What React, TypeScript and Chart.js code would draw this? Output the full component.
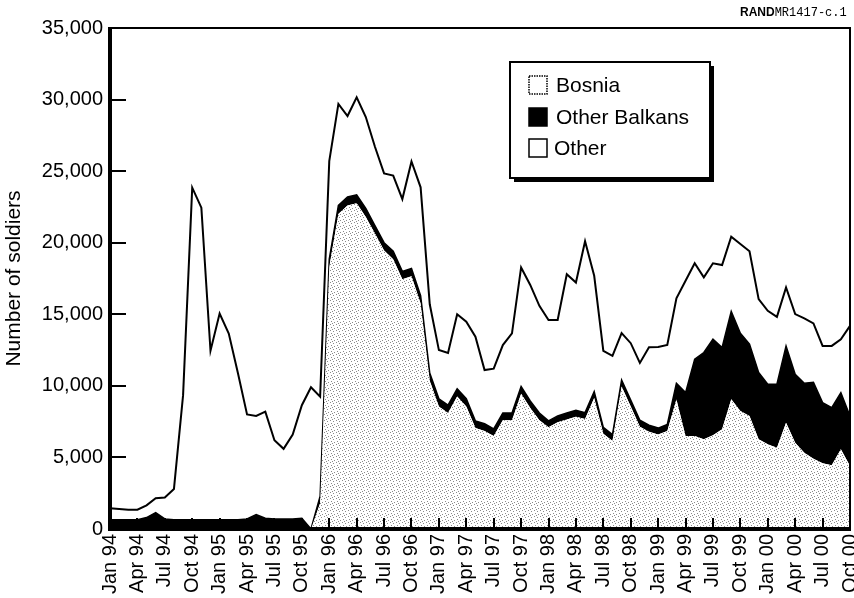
import React, { useEffect, useRef } from 'react';
import { Chart, registerables } from 'chart.js';

Chart.register(...registerables);

// ---- data ----
const MONTHS = ['Jan', 'Feb', 'Mar', 'Apr', 'May', 'Jun', 'Jul', 'Aug', 'Sep', 'Oct', 'Nov', 'Dec'];
const YEARS = ['94', '95', '96', '97', '98', '99', '00'];
const categories = YEARS.flatMap((y) => MONTHS.map((m) => `${m} ${y}`)).slice(0, 82);

const seriesNames = ['Bosnia', 'Other Balkans', 'Other'];

const bosnia = [
  0, 0, 0, 0, 0, 0, 0, 0, 0, 0,
  0, 0, 0, 0, 0, 0, 0, 0, 0, 0,
  0, 0, 0, 1800, 18300, 22000, 22600, 22750, 21800, 20650,
  19450, 18850, 17450, 17650, 15750, 10350, 8550, 8100, 9250, 8550,
  7050, 6850, 6500, 7600, 7600, 9450, 8450, 7600, 7100, 7450,
  7650, 7850, 7680, 9150, 6650, 6150, 9950, 8550, 7150, 6800,
  6600, 6850, 9050, 6500, 6500, 6270, 6550, 6970, 9070, 8250,
  7900, 6270, 5920, 5680, 7430, 6030, 5330, 4910, 4590, 4450,
  5570, 4400,
];

const otherBalkans = [
  650, 650, 650, 650, 800, 1150, 700, 650, 650, 650,
  650, 650, 650, 650, 650, 700, 1000, 750, 700, 700,
  700, 750, 0, 500, 550, 600, 600, 600, 600, 550,
  550, 550, 550, 550, 550, 550, 550, 550, 550, 550,
  500, 500, 500, 500, 500, 500, 500, 500, 450, 450,
  450, 450, 450, 450, 450, 450, 450, 450, 450, 450,
  450, 450, 1130, 3030, 5360, 6060, 6710, 5710, 6130, 5430,
  5010, 4660, 4190, 4430, 5360, 4780, 4850, 5340, 4240, 4030,
  3960, 3490,
];

const other = [
  800, 750, 700, 700, 850, 1000, 1500, 2150, 8700, 23200,
  21800, 11800, 14400, 13000, 10250, 7300, 6900, 7450, 5500, 4900,
  5900, 7900, 9900, 6950, 6850, 7100, 5650, 6800, 6380, 5500,
  4840, 5290, 5050, 7480, 7570, 4800, 3400, 3650, 5200, 5380,
  5880, 3750, 4200, 4750, 5560, 8320, 8100, 7490, 7050, 6700,
  9700, 8920, 11970, 8090, 5340, 5490, 3280, 3980, 4000, 5450,
  5670, 5560, 5930, 7810, 6700, 5250, 5300, 5760, 5220, 6230,
  6490, 5130, 5130, 4710, 4090, 4200, 4530, 4110, 3960, 4310,
  3730, 6300,
];

const Y_MIN = 0;
const Y_MAX = 35000;
const Y_STEP = 5000;
const yTitle = 'Number of soldiers';
const FONT = '"Liberation Sans", Arial, Helvetica, sans-serif';

function makeStipple(): CanvasPattern | string {
  const n = 6;
  const c = document.createElement('canvas');
  c.width = n;
  c.height = n;
  const g = c.getContext('2d');
  if (!g) return '#eeeeee';
  g.fillStyle = '#ffffff';
  g.fillRect(0, 0, n, n);
  g.fillStyle = '#8a8a8a';
  [[0, 0], [3, 1], [1, 3], [4, 4], [2, 5]].forEach(([x, y]) => g.fillRect(x, y, 1, 1));
  return g.createPattern(c, 'repeat') || '#eeeeee';
}

export default function App() {
  const ref = useRef<HTMLCanvasElement | null>(null);

  useEffect(() => {
    if (!ref.current) return;
    const stipple = makeStipple();

    const framePlugin = {
      id: 'frameTicks',
      afterDatasetsDraw(chart: any) {
        const { ctx, chartArea, scales } = chart;
        const { left, right, top, bottom } = chartArea;
        const x = scales.x;
        const y = scales.y;
        ctx.save();
        ctx.strokeStyle = '#000';
        ctx.lineWidth = 2;
        y.ticks.forEach((t: any) => {
          if (t.value <= Y_MIN || t.value >= Y_MAX) return;
          const py = Math.round(y.getPixelForValue(t.value));
          ctx.beginPath();
          ctx.moveTo(left, py);
          ctx.lineTo(left + 16, py);
          ctx.stroke();
        });
        categories.forEach((_c, i) => {
          if (i === 0 || i % 3 !== 0 || i === categories.length - 1) return;
          const px = Math.round(x.getPixelForValue(i));
          ctx.beginPath();
          ctx.moveTo(px, bottom);
          ctx.lineTo(px, bottom - 11);
          ctx.stroke();
        });
        ctx.lineWidth = 2;
        ctx.beginPath();
        ctx.moveTo(left, top);
        ctx.lineTo(right, top);
        ctx.lineTo(right, bottom);
        ctx.stroke();
        ctx.lineWidth = 4;
        ctx.beginPath();
        ctx.moveTo(left, top - 1);
        ctx.lineTo(left, bottom);
        ctx.lineTo(right + 1, bottom);
        ctx.stroke();
        ctx.restore();
      },
    };

    const legendPlugin = {
      id: 'boxLegend',
      afterDraw(chart: any) {
        const { ctx } = chart;
        const bx = 510, by = 62, bw = 200, bh = 116;
        ctx.save();
        ctx.fillStyle = '#000';
        ctx.fillRect(bx + 4, by + 4, bw, bh);
        ctx.fillStyle = '#fff';
        ctx.fillRect(bx, by, bw, bh);
        ctx.lineWidth = 2;
        ctx.strokeStyle = '#000';
        ctx.strokeRect(bx, by, bw, bh);
        const fills = ['#fff', '#000', '#fff'];
        const cys = [85, 117, 148];
        ctx.font = `21px ${FONT}`;
        ctx.textBaseline = 'middle';
        seriesNames.forEach((name, i) => {
          const sx = 529, sy = cys[i] - 9;
          ctx.fillStyle = fills[i];
          ctx.fillRect(sx, sy, 18, 18);
          ctx.lineWidth = 1.5;
          ctx.strokeStyle = '#000';
          if (i === 0) ctx.setLineDash([1.5, 1]);
          ctx.strokeRect(sx, sy, 18, 18);
          ctx.setLineDash([]);
          ctx.fillStyle = '#000';
          ctx.fillText(name, i === 2 ? 554 : 556, cys[i] + 1);
        });
        ctx.restore();
      },
    };

    const chart = new Chart(ref.current, {
      type: 'line',
      data: {
        labels: categories,
        datasets: [
          {
            label: seriesNames[0],
            data: bosnia,
            backgroundColor: stipple as any,
            borderColor: 'rgba(0,0,0,0)',
            borderWidth: 0,
            fill: 'origin',
            pointRadius: 0,
            tension: 0,
          },
          {
            label: seriesNames[1],
            data: otherBalkans,
            backgroundColor: '#000',
            borderColor: '#000',
            borderWidth: 1.5,
            fill: '-1',
            pointRadius: 0,
            tension: 0,
          },
          {
            label: seriesNames[2],
            data: other,
            backgroundColor: '#fff',
            borderColor: '#000',
            borderWidth: 2,
            fill: '-1',
            pointRadius: 0,
            tension: 0,
          },
        ],
      },
      options: {
        responsive: false,
        devicePixelRatio: 1,
        animation: false,
        layout: { padding: { top: 28, right: 4, left: 0, bottom: 0 } },
        plugins: {
          legend: { display: false },
          tooltip: { enabled: false },
        },
        scales: {
          x: {
            type: 'category',
            offset: false,
            grid: { display: false, drawTicks: false },
            border: { display: false },
            ticks: {
              autoSkip: false,
              minRotation: 90,
              maxRotation: 90,
              padding: 5,
              color: '#000',
              font: { family: FONT, size: 20 },
              callback: (_v: any, index: number) => (index % 3 === 0 ? categories[index] : ''),
            },
            afterFit: (s: any) => {
              s.height = 69;
              s.paddingLeft = 0;
              s.paddingRight = 0;
            },
          },
          y: {
            stacked: true,
            min: Y_MIN,
            max: Y_MAX,
            grid: { display: false, drawTicks: false },
            border: { display: false },
            ticks: {
              stepSize: Y_STEP,
              padding: 7,
              color: '#000',
              font: { family: FONT, size: 20 },
              callback: (v: any) => Number(v).toLocaleString('en-US'),
            },
            title: {
              display: true,
              text: yTitle,
              color: '#000',
              font: { family: FONT, size: 21 },
              padding: { top: 2, bottom: 0 },
            },
            afterFit: (s: any) => {
              s.width = 110;
              s.paddingTop = 0;
              s.paddingBottom = 0;
            },
          },
        },
      },
      plugins: [framePlugin, legendPlugin],
    });

    return () => chart.destroy();
  }, []);

  return (
    <div style={{ position: 'absolute', left: 0, top: 0, width: 854, height: 598, background: '#fff', overflow: 'hidden' }}>
      <canvas ref={ref} width={854} height={598} style={{ display: 'block' }} />
      <div
        style={{
          position: 'absolute',
          left: 740,
          top: 5,
          fontSize: 12,
          lineHeight: '14px',
          whiteSpace: 'nowrap',
          color: '#000',
        }}
      >
        <span style={{ fontFamily: FONT, fontWeight: 'bold' }}>RAND</span>
        <span style={{ fontFamily: '"Liberation Mono", "DejaVu Sans Mono", monospace' }}>MR1417-c.1</span>
      </div>
    </div>
  );
}
